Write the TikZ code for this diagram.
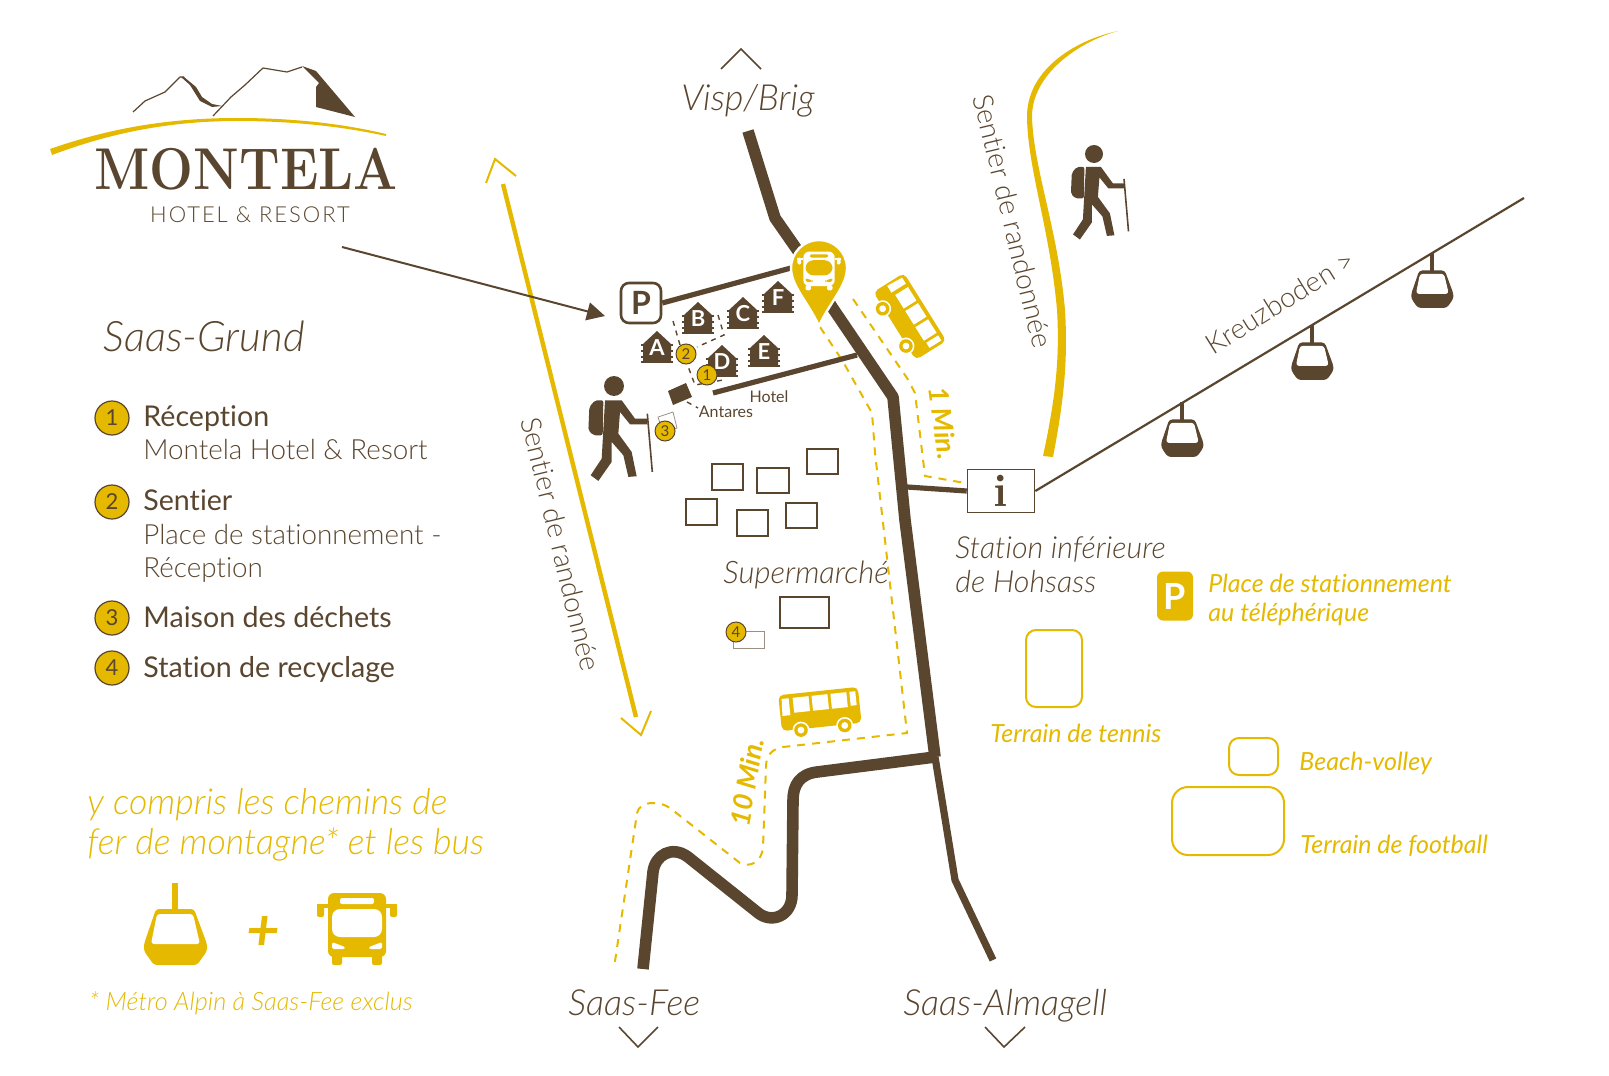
\documentclass[tikz,border=0pt]{standalone}
\usepackage{fontspec}
\usepackage{graphicx}
\setsansfont{Lato}[Ligatures=NoCommon]
\newfontfamily\lightf{Lato Light}[ItalicFont={Lato Light Italic}, Ligatures=NoCommon]
\usetikzlibrary{arrows.meta}
\definecolor{brun}{HTML}{5A452E}
\definecolor{gold}{HTML}{E4B900}
\tikzset{
	road/.style={brun, line width=5.8pt, line join=round},
	roadthin/.style={brun, line width=2.6pt, line join=round},
	trail/.style={gold, line width=1pt, dash pattern=on 4pt off 3.5pt},
	chevron/.style={brun, line width=.8pt},
	house/.style={draw=brun, fill=white, line width=.8pt},
	field/.style={draw=gold, line width=1pt, rounded corners=5pt},
	numsmall/.style={circle, fill=gold, draw=brun, line width=.5pt, minimum size=10pt, inner sep=0pt, text=brun, font=\sffamily\fontsize{7.5}{9}\selectfont},
	numbig/.style={circle, fill=gold, draw=brun, line width=.6pt, minimum size=17pt, inner sep=0pt, text=brun, font=\sffamily\fontsize{11}{13}\selectfont},
	legendhead/.style={anchor=base west, inner sep=0pt, text=brun, font=\sffamily\fontsize{14.3}{17}\selectfont},
	legendtext/.style={anchor=base west, inner sep=0pt, text=brun, font=\lightf\fontsize{13.9}{17}\selectfont},
	placename/.style={anchor=base west, inner sep=0pt, text=brun, font=\lightf\itshape\fontsize{18}{21}\selectfont},
	stationname/.style={anchor=base west, inner sep=0pt, text=brun, font=\lightf\itshape\fontsize{15.2}{18}\selectfont},
	goldtext/.style={anchor=base west, inner sep=0pt, text=gold, font=\sffamily\itshape\fontsize{12.5}{15}\selectfont},
	goldbig/.style={anchor=base west, inner sep=0pt, text=gold, font=\lightf\itshape\fontsize{17.9}{21}\selectfont},
	mintext/.style={inner sep=0pt, text=gold, font=\sffamily\bfseries\itshape\fontsize{13.5}{15}\selectfont},
	pathname/.style={inner sep=0pt, text=brun, font=\lightf\fontsize{14}{17}\selectfont},
	hotelname/.style={inner sep=0pt, text=brun, font=\sffamily\fontsize{8}{10}\selectfont},
	cabinname/.style={inner sep=0pt, text=white, font=\sffamily\bfseries\fontsize{11}{13}\selectfont},
	pics/cabin/.style={code={
		\fill[brun] (0,-16) -- (-14,-3) -- (-14,15) -- (14,15) -- (14,-3) -- cycle;
		\foreach \y in {-2, 4, 10, 15}
			\fill[brun] (-16,\y-1) rectangle (16,\y+1);
	}},
	pics/gondola/.style 2 args={code={
		\fill[#1] (-3.2,0) rectangle (3.2,28);
		\fill[#1, rounded corners=1.5pt] (-19,26) -- (19,26) -- (32,61) -- (32,68) -- (22,82) -- (-21,82) -- (-31,68) -- (-31,61) -- cycle;
		\fill[#2, rounded corners=1.5pt] (-18,31) -- (18,31) -- (25,61) -- (-24,61) -- cycle;
	}},
	pics/busfront/.style 2 args={code={
		\fill[#1, rounded corners=3pt] (-29,-36) rectangle (29,28);
		\fill[#1, rounded corners=1pt] (-25,26) rectangle (-15,36);
		\fill[#1, rounded corners=1pt] (15,26) rectangle (25,36);
		\fill[#1, rounded corners=1pt] (-40,-12) rectangle (-33,-25);
		\fill[#1] (-40,-25) rectangle (-29,-21);
		\fill[#1, rounded corners=1pt] (33,-12) rectangle (40,-25);
		\fill[#1] (29,-25) rectangle (40,-21);
		\fill[#2, rounded corners=1pt] (-17,-31) rectangle (17,-25);
		\fill[#2, rounded corners=4pt] (-25,-20) rectangle (25,8);
		\fill[#2, rounded corners=.8pt] (-25,13) -- (-12,18) -- (-12,20) -- (-25,20) -- cycle;
		\fill[#2, rounded corners=.8pt] (25,13) -- (12,18) -- (12,20) -- (25,20) -- cycle;
	}},
	pics/busside/.style={code={
		\fill[gold, rounded corners=2.5pt] (-40,-19) rectangle (40,17);
		\foreach \x in {-26, -7, 12}
			\fill[white] (\x,-15) rectangle (\x+16,0);
		\fill[white] (-37,-15) -- (-30,-15) -- (-30,2) -- (-38,2) -- cycle;
		\fill[white] (31,-15) rectangle (37,-1);
		\foreach \x in {-21, 23}{
			\fill[white] (\x,18) circle[radius=8.5];
			\fill[gold] (\x,18) circle[radius=6.8];
			\fill[white] (\x,18) circle[radius=3.4];
		}
	}},
	pics/hiker/.style={code={
		\fill[brun] (0,0) circle[radius=30];
		\fill[brun, rounded corners=1pt] (-57,43) -- (-32,43) -- (-34,148) -- (-62,148) -- (-77,133) -- (-74,63) -- cycle;
		\fill[brun] (-27,43) -- (23,43) -- (63,98) -- (100,98) -- (100,115) -- (48,115) -- (18,78) -- (13,143) -- (53,198) -- (68,271) -- (43,273) -- (28,208) -- (-7,168) -- (-7,228) -- (-47,285) -- (-70,268) -- (-37,218) -- cycle;
		\draw[brun, line width=.8pt] (100,83) -- (115,258);
	}}
}
\begin{document}
\begin{tikzpicture}[x=.5pt, y=-.5pt]
	\useasboundingbox (0,0) rectangle (1609,1075);
	%logo
	\draw[brun, line width=.6pt, line join=round] (133,112) -- (145,101) -- (165,92) -- (180,77) -- (184,77);
	\fill[brun] (181,77) -- (184,77) -- (196,87) -- (202,97) -- (212,104) -- (222,106) -- (212,107) -- (200,101) -- (190,85) -- cycle;
	\draw[brun, line width=.6pt, line join=round] (213,116) -- (231,97) -- (245,85) -- (263,68) -- (287,72) -- (302,67);
	\fill[brun] (302,66) -- (316,71) -- (355,117) -- (316,107) -- (316,87) -- (319,83) -- (305,69) -- cycle;
	\fill[gold] (50,149) .. controls (110,128) and (170,118) .. (237,118) .. controls (290,118) and (340,123) .. (386,134) -- (386,136) .. controls (340,126) and (290,121) .. (237,121) .. controls (170,121) and (110,133) .. (52,155) -- cycle;
	\node[inner sep=0pt, text=brun, anchor=base] (logoname) at (246,190) {\scalebox{.88}[1]{\rmfamily\bfseries\fontsize{29.5}{32}\selectfont MONTELA}};
	\node[inner sep=0pt, text=brun, anchor=base] (logosub) at (250,222) {\lightf\fontsize{11}{12}\addfontfeature{LetterSpace=9}\selectfont HOTEL \& RESORT};
	%title and legend
	\node[placename, font=\lightf\itshape\fontsize{21}{24}\selectfont] (grund) at (103,351) {Saas-Grund};
	\node[numbig] (leg1) at (112,418) {1};
	\node[numbig] (leg2) at (112,502) {2};
	\node[numbig] (leg3) at (112,618) {3};
	\node[numbig] (leg4) at (112,668) {4};
	\node[legendhead] (rec) at (143,426) {Réception};
	\node[legendtext] (rec2) at (143,459) {Montela Hotel \& Resort};
	\node[legendhead] (sen) at (143,510) {Sentier};
	\node[legendtext] (sen2) at (143,544) {Place de stationnement -};
	\node[legendtext] (sen3) at (143,577) {Réception};
	\node[legendhead] (dec) at (143,627) {Maison des déchets};
	\node[legendhead] (rcy) at (143,677) {Station de recyclage};
	%included transport
	\node[goldbig] (incl1) at (87,814) {y compris les chemins de};
	\node[goldbig] (incl2) at (87,854) {fer de montagne* et les bus};
	\pic[scale=1] at (175,883) {gondola={gold}{white}};
	\node[inner sep=0pt, text=gold] (plus) at (263,933) {\sffamily\bfseries\itshape\fontsize{29}{30}\selectfont +};
	\pic at (357,929) {busfront={gold}{white}};
	\node[goldtext, font=\lightf\itshape\fontsize{12.65}{15}\selectfont] (excl) at (89,1010) {* Métro Alpin à Saas-Fee exclus};
	%roads
	\draw[road] (748,131) -- (775,218) -- (798,251) -- (832,307) -- (893,397) -- (905,520) -- (935,757);
	\draw[road] (935,757) -- (817,772) .. controls (800,774) and (793,785) .. (793,800) -- (792,895) .. controls (792,915) and (772,925) .. (757,912) -- (688,857) .. controls (672,845) and (655,855) .. (653,872) -- (643,969);
	\draw[roadthin, line width=3.6pt] (935,757) -- (955,880) -- (993,960);
	%chevrons
	\draw[chevron] (721,69) -- (741,49) -- (761,69);
	\draw[chevron] (619,1027) -- (638,1047) -- (658,1027);
	\draw[chevron] (985,1027) -- (1004,1047) -- (1025,1027);
	\node[placename, anchor=base] (visp) at (748,111) {Visp/Brig};
	\node[placename] (fee) at (568,1015) {Saas-Fee};
	\node[placename] (alm) at (903,1015) {Saas-Almagell};
	%hiking trails
	\draw[gold, line width=2.2pt] (503,184) -- (636,717);
	\draw[gold, line width=1pt] (486,183) -- (495,159) -- (516,176);
	\draw[gold, line width=1pt] (621,718) -- (641,735) -- (651,711);
	\fill[gold] (1118,31) .. controls (1075,40) and (1026,70) .. (1027,118) .. controls (1028,170) and (1050,230) .. (1057,310) .. controls (1060,360) and (1055,400) .. (1043,456) -- (1053,457) .. controls (1064,400) and (1068,360) .. (1065,310) .. controls (1058,230) and (1034,170) .. (1032,118) .. controls (1031,75) and (1078,42) .. (1118,31) -- cycle;
	\node[pathname, rotate=-76.5] (senl) at (561,544) {Sentier de randonnée};
	\node[pathname, rotate=-76.5] (senr) at (1013,221) {Sentier de randonnée};
	\pic[scale=.333] at (614,386) {hiker};
	\pic[scale=.3] at (1094,154) {hiker};
	%bus walks
	\draw[trail] (820,327) -- (842,360) -- (872,413) -- (875,453) -- (907,733) -- (783,747) .. controls (772,749) and (766,755) .. (766,767) -- (763,847) .. controls (762,862) and (750,868) .. (740,863) -- (670,808) .. controls (660,801) and (640,800) .. (637,813) -- (614,968);
	\draw[trail] (853,299) -- (907,378) -- (915,393) -- (925,476) -- (965,483);
	\pic[rotate=-58] at (909,317) {busside};
	\pic[rotate=6] at (820,710) {busside};
	\node[mintext, rotate=-82] (onemin) at (943,423) {1 Min.};
	\node[mintext, rotate=80] (tenmin) at (747,782) {10 Min.};
	%parking and hotel
	\node[draw=brun, fill=white, line width=1.3pt, rounded corners=4pt, minimum width=20pt, minimum height=20pt, inner sep=0pt, text=brun, font=\sffamily\bfseries\fontsize{16}{18}\selectfont] (pbox) at (641,303) {P};
	\coordinate (logoout) at (342,247);
	\coordinate (ptip) at (605,316);
	\draw[brun, line width=1pt, -{Triangle[length=9pt, width=9pt]}] (logoout) -- (ptip);
	\coordinate (pinleft) at (791,268);
	\draw[road, line width=2.6pt] (pbox.east) -- (pinleft);
	\draw[road, line width=2.6pt] (857,355) -- (713,393);
	%info
	\node[draw=brun, fill=white, line width=.8pt, minimum width=33.5pt, minimum height=21.5pt, inner sep=0pt, text=brun, font=\rmfamily\bfseries\fontsize{23}{25}\selectfont] (infobox) at (1001,491) {i};
	\coordinate (roadinfo) at (907,487);
	\draw[road, line width=2.6pt] (roadinfo) -- (infobox.west);
	\coordinate (cableend) at (1524,198);
	\draw[brun, line width=1.1pt] (infobox.east) -- (cableend);
	\pic[scale=.67] at (1182,402) {gondola={brun}{white}};
	\pic[scale=.67] at (1312,325) {gondola={brun}{white}};
	\pic[scale=.67] at (1432,253) {gondola={brun}{white}};
	\node[pathname, rotate=32] (kreuz) at (1280,302) {Kreuzboden >};
	%cabins
	\draw[brun, line width=.7pt, dash pattern=on 2.5pt off 2.5pt] (673,321) -- (680,345) -- (695,385) -- (723,380);
	\draw[brun, line width=.7pt, dash pattern=on 2.5pt off 2.5pt] (718,315) -- (724,335) -- (697,347);
	\draw[brun, line width=.7pt, dash pattern=on 2.5pt off 2.5pt] (687,402) -- (698,408);
	\foreach \name/\xpos/\ypos in {A/657/347, B/698/318, C/743/313, F/778/297, D/722/361, E/764/351}{
		\pic at (\xpos,\ypos) {cabin};
		\node[cabinname] (cab\name) at (\xpos,\ypos+1) {\name};
	}
	\fill[brun] (668,391) -- (686,383) -- (692,397) -- (673,405) -- cycle;
	\node[hotelname] (hotel) at (769,397) {Hotel};
	\node[hotelname] (antares) at (726,412) {Antares};
	\draw[brun!60, line width=.4pt] (658,417) -- (673,412) -- (677,428) -- (663,433) -- cycle;
	\node[numsmall] (num2) at (686,354) {2};
	\node[numsmall] (num1) at (707,375) {1};
	\node[numsmall] (num3) at (665,431) {3};
	%houses
	\foreach \xa/\ya/\xb/\yb in {712/464/743/490, 757/468/789/493, 807/449/838/474, 686/499/717/525, 737/510/768/536, 786/503/817/528, 780/597/829/628}
		\draw[house] (\xa,\ya) rectangle (\xb,\yb);
	\draw[house, draw=brun!60, line width=.5pt] (733,631) rectangle (764,648);
	\node[numsmall] (num4) at (736,632) {4};
	\node[stationname, font=\lightf\itshape\fontsize{15.5}{18}\selectfont] (sup) at (723,583) {Supermarché};
	%bus stop
	\fill[gold, draw=white, line width=1.2pt] (819,326) .. controls (808,302) and (791,286) .. (791,268) .. controls (791,252) and (804,240) .. (819,240) .. controls (834,240) and (847,252) .. (847,268) .. controls (847,286) and (830,302) .. (819,326) -- cycle;
	\pic[scale=.54] at (819,271) {busfront={white}{gold}};
	%right side
	\node[stationname] (stat1) at (955,558) {Station inférieure};
	\node[stationname] (stat2) at (955,592) {de Hohsass};
	\node[fill=gold, rounded corners=3pt, minimum width=18pt, minimum height=24.5pt, inner sep=0pt, text=white, font=\sffamily\bfseries\fontsize{18}{20}\selectfont] (pgold) at (1175,596) {P};
	\node[goldtext] (pl1) at (1208,592) {Place de stationnement};
	\node[goldtext] (pl2) at (1208,621) {au téléphérique};
	\draw[field] (1026,630) rectangle (1082,707);
	\node[goldtext] (tennis) at (990,742) {Terrain de tennis};
	\draw[field] (1229,738) rectangle (1278,775);
	\node[goldtext] (beach) at (1299,770) {Beach-volley};
	\draw[field, rounded corners=8pt] (1172,787) rectangle (1284,855);
	\node[goldtext] (foot) at (1300,853) {Terrain de football};
\end{tikzpicture}
\end{document}
